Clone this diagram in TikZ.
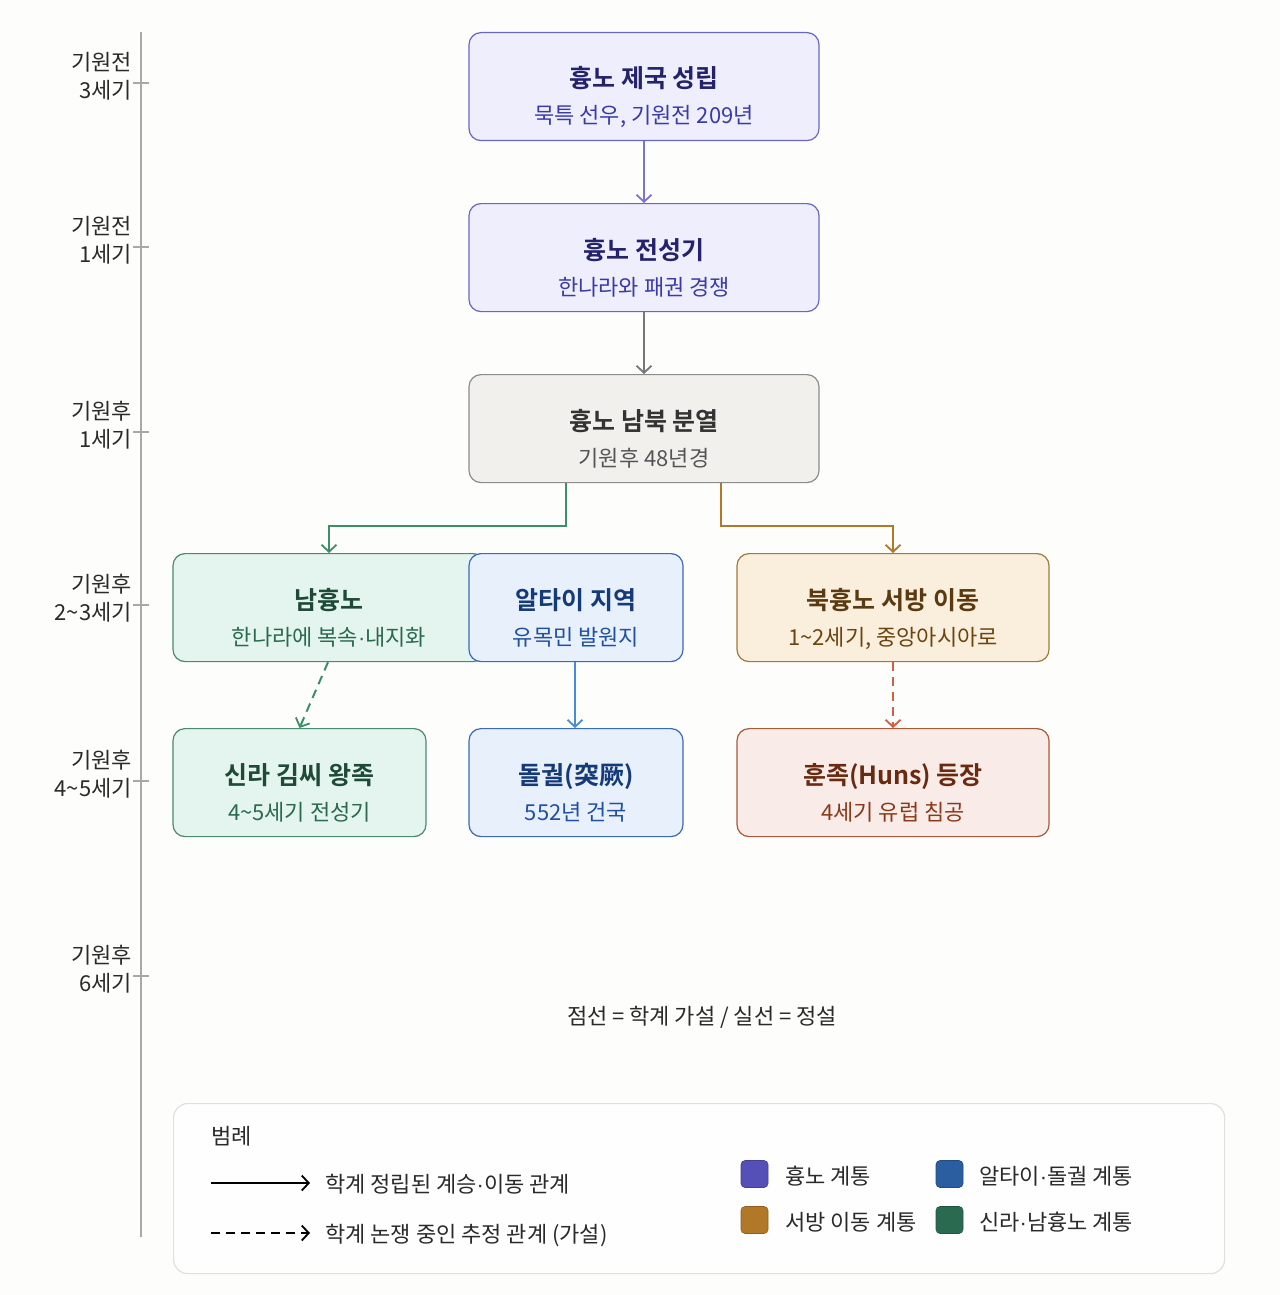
\documentclass[tikz,border=0pt]{standalone}
\usepackage{fontspec}
\setmainfont{Noto Sans CJK KR}[BoldFont={Noto Sans CJK KR Bold}]
\newfontfamily\latf{Liberation Sans}
\newcommand{\mdot}{{\latf ·}}
\usetikzlibrary{arrows.meta}
\definecolor{bg}{HTML}{FDFDFC}
\definecolor{hunF}{HTML}{EEEEFC}\definecolor{hunD}{HTML}{6A66C8}\definecolor{hunT}{HTML}{23226A}\definecolor{hunS}{HTML}{3A3AA8}
\definecolor{gryF}{HTML}{F1F0EC}\definecolor{gryD}{HTML}{8C8C88}\definecolor{gryT}{HTML}{333333}\definecolor{gryS}{HTML}{555555}
\definecolor{grnF}{HTML}{E4F4EE}\definecolor{grnD}{HTML}{4A8A70}\definecolor{grnT}{HTML}{1E4A38}\definecolor{grnS}{HTML}{2A6A4E}
\definecolor{bluF}{HTML}{E8F0FC}\definecolor{bluD}{HTML}{3A6AB8}\definecolor{bluT}{HTML}{153A78}\definecolor{bluS}{HTML}{2050A0}
\definecolor{orgF}{HTML}{FAEEDC}\definecolor{orgD}{HTML}{A07A3A}\definecolor{orgT}{HTML}{5A3A10}\definecolor{orgS}{HTML}{6A4510}
\definecolor{pnkF}{HTML}{F9ECE8}\definecolor{pnkD}{HTML}{A85A3A}\definecolor{pnkT}{HTML}{6A2A10}\definecolor{pnkS}{HTML}{8A3A18}
\definecolor{aPur}{HTML}{7B74D8}\definecolor{aGry}{HTML}{777777}\definecolor{aGrn}{HTML}{3E8E6A}
\definecolor{aOrg}{HTML}{B07828}\definecolor{aBlu}{HTML}{4A8AD8}\definecolor{aRed}{HTML}{D06040}
\definecolor{sqP}{HTML}{5550B8}\definecolor{sqB}{HTML}{2A5EA0}\definecolor{sqO}{HTML}{B07828}\definecolor{sqG}{HTML}{2A6A50}
\definecolor{tline}{HTML}{A8A8A8}\definecolor{txt}{HTML}{2A2A2A}
\tikzset{
  evbox/.style={draw, line width=1.2pt, rounded corners=12pt, minimum height=108pt, anchor=north, inner sep=0pt},
  ttl/.style={font=\bfseries\fontsize{25}{29}\selectfont, anchor=base, inner sep=0pt},
  sub/.style={font=\fontsize{22}{26}\selectfont, anchor=base, inner sep=0pt},
  arr/.style={line width=2pt, -{Straight Barb[length=7pt,width=15pt,line width=1.8pt]}},
  dsh/.style={arr, dash pattern=on 9pt off 6pt},
  tlab/.style={font=\fontsize{22}{26}\selectfont, anchor=base east, inner sep=0pt, text=txt},
  ltxt/.style={font=\fontsize{22}{26}\selectfont, anchor=base west, inner sep=0pt, text=txt},
  sq/.style={line width=0.6pt, rounded corners=4pt, minimum size=27pt, inner sep=0pt},
}
% name, fam, cx, top, width, title, sub
\newcommand{\evbox}[7]{%
  \node[evbox, fill=#2F, draw=#2D, minimum width=#5pt] (#1) at (#3,#4) {};
  \node[ttl, text=#2T] (#1t) at (#3,{#4+56}) {#6};
  \node[sub, text=#2S] (#1s) at (#3,{#4+92}) {#7};
}
\newcommand{\tick}[3]{%
  \draw[tline, line width=1.2pt] (133,#1) -- (149,#1);
  \node[tlab] at (132,{#1-12.5}) {#2};
  \node[tlab] at (132,{#1+15.5}) {#3};
}
\begin{document}
\begin{tikzpicture}[x=1pt,y=-1pt]
\path[fill=bg] (0,0) rectangle (1280,1295);
\useasboundingbox (0,0) rectangle (1280,1295);
% timeline
\draw[tline, line width=1.5pt] (141,32) -- (141,1237);
\tick{83}{기원전}{3세기}
\tick{247}{기원전}{1세기}
\tick{432}{기원후}{1세기}
\tick{605}{기원후}{2\textasciitilde3세기}
\tick{781}{기원후}{4\textasciitilde5세기}
\tick{976}{기원후}{6세기}
% boxes
\evbox{b1}{hun}{644}{32}{350}{흉노 제국 성립}{묵특 선우, 기원전 209년}
\evbox{b2}{hun}{644}{203}{350}{흉노 전성기}{한나라와 패권 경쟁}
\evbox{b3}{gry}{644}{374}{350}{흉노 남북 분열}{기원후 48년경}
\evbox{nan}{grn}{329}{553}{312}{남흉노}{한나라에 복속\mdot 내지화}
\evbox{alt}{blu}{576}{553}{214}{알타이 지역}{유목민 발원지}
\evbox{buk}{org}{893}{553}{312}{북흉노 서방 이동}{1\textasciitilde2세기, 중앙아시아로}
\evbox{sil}{grn}{299.5}{728}{253}{신라 김씨 왕족}{4\textasciitilde5세기 전성기}
\evbox{dol}{blu}{576}{728}{214}{돌궐(突厥)}{552년 건국}
\evbox{hns}{pnk}{893}{728}{312}{훈족(Huns) 등장}{4세기 유럽 침공}
% connectors
\draw[arr, aPur] (b1.south) -- (b2.north);
\draw[arr, aGry] (b2.south) -- (b3.north);
\draw[arr, aGrn] ([xshift=-78pt]b3.south) -- ++(0,43) -| (nan.north);
\draw[arr, aOrg] ([xshift=77pt]b3.south) -- ++(0,43) -| (buk.north);
\draw[dsh, aGrn] ([xshift=-1pt]nan.south) -- (sil.north);
\draw[arr, aBlu] ([xshift=-1pt]alt.south) -- ([xshift=-1pt]dol.north);
\draw[dsh, aRed] (buk.south) -- (hns.north);
% note
\node[font=\fontsize{22}{26}\selectfont, text=txt, anchor=base, inner sep=0pt] (note) at (702,1024) {점선 = 학계 가설 / 실선 = 정설};
% legend
\node[draw=black!12, fill=white!60!bg, line width=1.2pt, rounded corners=14pt, minimum width=1051pt, minimum height=170pt, anchor=north west, inner sep=0pt] (leg) at (173,1103) {};
\node[ltxt] (legt) at (211,1144) {범례};
\coordinate (s1a) at (211,1183); \coordinate (s1b) at (310,1183);
\draw[arr, black, line width=2pt] (s1a) -- (s1b);
\node[ltxt] (l1) at (325,1192) {학계 정립된 계승\mdot 이동 관계};
\coordinate (s2a) at (211,1233); \coordinate (s2b) at (310,1233);
\draw[dsh, black, line width=2pt] (s2a) -- (s2b);
\node[ltxt] (l2) at (325,1242) {학계 논쟁 중인 추정 관계 (가설)};
\node[sq, fill=sqP, draw=sqP!80!black] (q1) at (754.5,1174) {};
\node[ltxt] (q1t) at (785,1184) {흉노 계통};
\node[sq, fill=sqB, draw=sqB!80!black] (q2) at (949.5,1174) {};
\node[ltxt] (q2t) at (979,1184) {알타이\mdot 돌궐 계통};
\node[sq, fill=sqO, draw=sqO!80!black] (q3) at (754.5,1220) {};
\node[ltxt] (q3t) at (785,1230) {서방 이동 계통};
\node[sq, fill=sqG, draw=sqG!80!black] (q4) at (949.5,1220) {};
\node[ltxt] (q4t) at (979,1230) {신라\mdot 남흉노 계통};
\end{tikzpicture}
\end{document}
